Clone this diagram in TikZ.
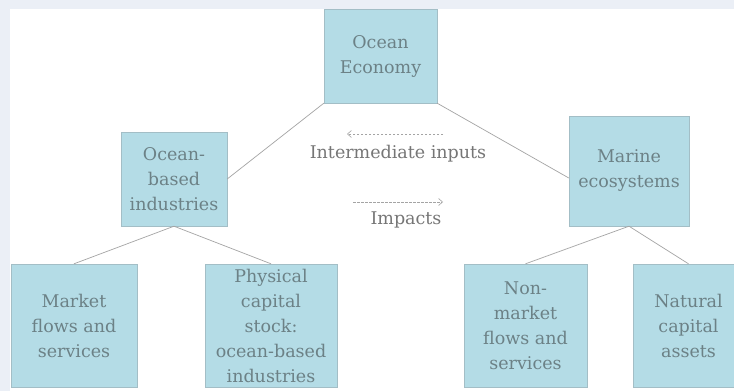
\documentclass[tikz,border=0pt]{standalone}
\usepackage{fontspec}
\setmainfont{DejaVu Serif}
\usetikzlibrary{arrows.meta,calc}
\definecolor{pagegray}{HTML}{EBEFF6}
\definecolor{boxfill}{HTML}{B4DCE6}
\definecolor{boxline}{HTML}{A3BEC6}
\definecolor{boxtext}{HTML}{6C8186}
\definecolor{linkgray}{HTML}{A4A4A4}
\definecolor{labeltext}{HTML}{767676}
\tikzset{
  sector/.style={draw=boxline, fill=boxfill, text=boxtext, align=center,
    inner sep=2pt, font=\fontsize{17.5}{25}\selectfont},
  link/.style={draw=linkgray, line width=0.7pt},
  flow/.style={draw=linkgray, dash pattern=on 2.5pt off 1.5pt, line width=0.6pt,
    -{Straight Barb[length=4pt, width=7pt]}},
  flowlabel/.style={text=labeltext, font=\fontsize{17.5}{25}\selectfont}
}
\begin{document}
\begin{tikzpicture}[x=1pt, y=-1pt]
  % page background
  \fill[pagegray] (0,0) rectangle (734,391);
  \fill[white] (10,9) rectangle (734,391);
  \useasboundingbox (0,0) rectangle (734,391);
  \clip (0,0) rectangle (734,391);

  % boxes
  \node[sector, minimum width=113pt, minimum height=94pt] (econ) at (380.5,56) {Ocean\\Economy};
  \node[sector, minimum width=106pt, minimum height=94pt] (industries) at (174,179) {Ocean-\\based\\industries};
  \node[sector, minimum width=120pt, minimum height=110pt] (marine) at (629,171) {Marine\\ecosystems};
  \node[sector, minimum width=126pt, minimum height=123pt] (market) at (74,325.5) {Market\\flows and\\services};
  \node[sector, minimum width=132pt, minimum height=123pt] (physical) at (271,325.5) {Physical\\capital\\stock:\\ocean-based\\industries};
  \node[sector, minimum width=123pt, minimum height=123pt] (nonmarket) at (525.5,325.5) {Non-\\market\\flows and\\services};
  \node[sector, minimum width=111pt, minimum height=123pt] (natural) at (688.5,325.5) {Natural\\capital\\assets};

  % tree links
  \draw[link] (econ.south west) -- (industries.east);
  \draw[link] (econ.south east) -- ([yshift=-7pt]marine.west);
  \draw[link] (industries.south) -- (market.north);
  \draw[link] (industries.south) -- (physical.north);
  \draw[link] (marine.south) -- (nonmarket.north);
  \draw[link] (marine.south) -- (natural.north);

  % flows between the two sides
  \coordinate (inputs start) at (443,134);
  \coordinate (inputs end) at (347,134);
  \coordinate (impacts start) at (353,202);
  \coordinate (impacts end) at (443,202);
  \draw[flow] (inputs start) -- (inputs end);
  \draw[flow] (impacts start) -- (impacts end);
  \node[flowlabel] (inputs) at (398,154) {Intermediate inputs};
  \node[flowlabel] (impacts) at (406,220) {Impacts};
\end{tikzpicture}
\end{document}
